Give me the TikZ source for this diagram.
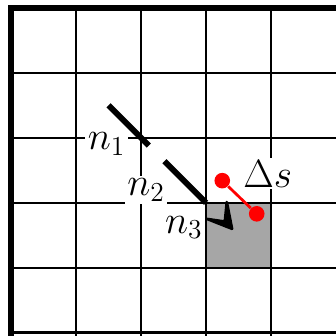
\documentclass[tikz,border=0pt]{standalone}
\usetikzlibrary{positioning,calc}

\begin{document}
\begin{tikzpicture}[
  x=1cm, y=1cm,
  font=\LARGE,
  gridline/.style={line width=1.1pt, black},
  border/.style={line width=2.6pt, black},
  ray/.style={line width=2.6pt, black},
  head/.style={fill=black, draw=black, line width=1.2pt, line join=round},
  lbl/.style={fill=white, inner sep=1pt},
  dot/.style={circle, fill=red, inner sep=0pt, minimum size=2.4mm},
  shiftline/.style={red, line width=1.2pt},
]
\useasboundingbox (-0.17,-0.05) rectangle (5.0,5.12);

%% ---------- grid ----------
\fill[black!35] (3,1) rectangle (4,2);
\foreach \i in {1,...,4} \draw[gridline] (\i,-0.1) -- (\i,5);
\foreach \j in {0,...,4} \draw[gridline] (0,\j) -- (5.1,\j);
\draw[border] (0,-0.1) -- (0,5) -- (5.1,5);

%% ---------- labels (white boxes break the grid lines) ----------
\node[lbl] (n1) at (1.47,2.9)  {$n_1$};
\node[lbl] (n2) at (2.08,2.2)  {$n_2$};
\node[lbl] (n3) at (2.66,1.62) {$n_3$};
\node[lbl] (ds) at (3.95,2.45) {$\Delta s$};

%% ---------- ray through the cells ----------
\coordinate (a1)  at (1.5,3.5);
\coordinate (a2)  at (2.12,2.88);
\coordinate (b1)  at (2.36,2.64);
\coordinate (c)   at (3,2);
\coordinate (tip) at (3.4,1.6);
\draw[ray] (a1) -- (a2);
\draw[ray] (b1) -- (c);
%% arrowhead only, in the grey cell
\filldraw[head] ($(tip)+(-0.38,0.15)$) -- (tip) -- ($(tip)+(-0.08,0.41)$)
  -- ($(tip)+(-0.11,0.11)$) -- cycle;

%% ---------- sub-cell shift ----------
\node[dot] (p) at (3.25,2.34) {};
\node[dot] (q) at (3.78,1.83) {};
\draw[shiftline] (p) -- (q);

\end{tikzpicture}
\end{document}
